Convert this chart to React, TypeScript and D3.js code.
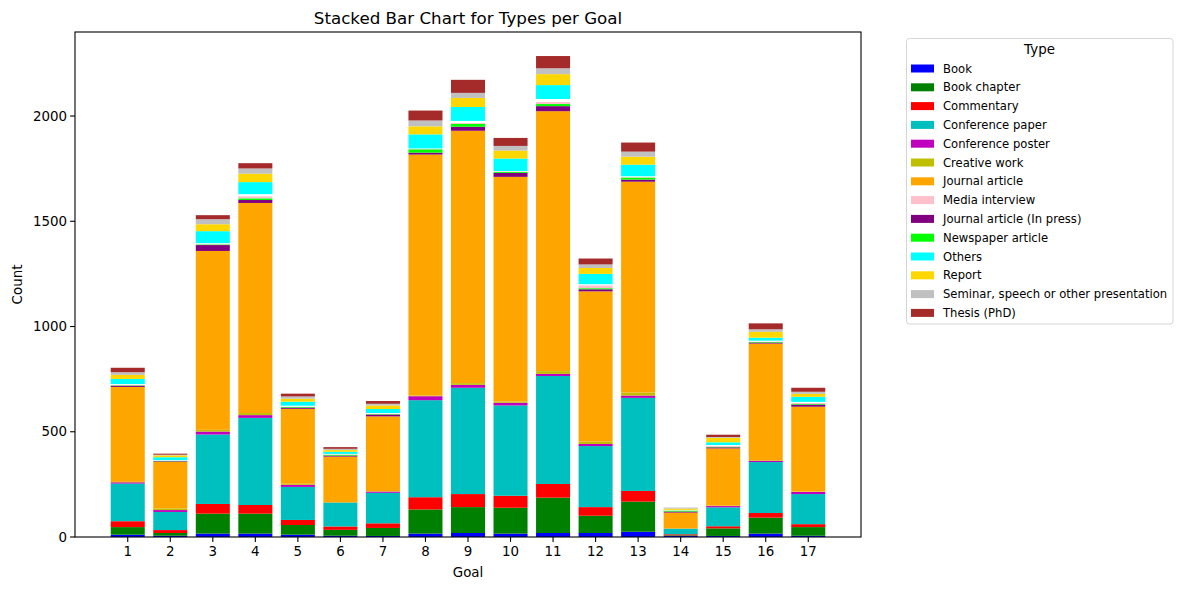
import React from 'react';
import * as d3 from 'd3';

// goals on the x axis
const goals = d3.range(1, 18);

const types = [
  'Book',
  'Book chapter',
  'Commentary',
  'Conference paper',
  'Conference poster',
  'Creative work',
  'Journal article',
  'Media interview',
  'Journal article (In press)',
  'Newspaper article',
  'Others',
  'Report',
  'Seminar, speech or other presentation',
  'Thesis (PhD)',
];

const typeColors: Record<string, string> = {
  Book: '#0000ff',
  'Book chapter': '#008000',
  Commentary: '#ff0000',
  'Conference paper': '#00bfbf',
  'Conference poster': '#bf00bf',
  'Creative work': '#bfbf00',
  'Journal article': '#ffa500',
  'Media interview': '#ffc0cb',
  'Journal article (In press)': '#800080',
  'Newspaper article': '#00ff00',
  Others: '#00ffff',
  Report: '#ffd700',
  'Seminar, speech or other presentation': '#c0c0c0',
  'Thesis (PhD)': '#a52a2a',
  Unlisted: '#ffffff',
};

// stacking order as it appears in the bars (bottom -> top)
const stackOrder = [
  'Book',
  'Book chapter',
  'Commentary',
  'Conference paper',
  'Conference poster',
  'Creative work',
  'Journal article',
  'Journal article (In press)',
  'Newspaper article',
  'Media interview',
  'Unlisted',
  'Others',
  'Report',
  'Seminar, speech or other presentation',
  'Thesis (PhD)',
];

const book = [11, 6, 16, 16, 11, 6, 5, 16, 19, 16, 19, 19, 25, 5, 5, 16, 6];
const bookChapter = [36, 13, 95, 95, 46, 28, 38, 115, 123, 123, 168, 82, 143, 3, 36, 76, 41];
const commentary = [28, 14, 46, 41, 24, 16, 22, 58, 62, 57, 65, 41, 51, 5, 10, 22, 14];
const confPaper = [179, 86, 330, 414, 157, 114, 145, 461, 505, 429, 513, 290, 442, 27, 90, 242, 143];
const confPoster = [6, 9, 14, 13, 10, 0, 6, 19, 14, 13, 10, 10, 11, 0, 6, 6, 10];
const creativeWork = [2, 8, 8, 10, 5, 0, 2, 3, 8, 6, 13, 11, 14, 0, 2, 3, 2];
const journalArticle = [451, 221, 850, 998, 356, 218, 355, 1145, 1199, 1067, 1235, 714, 1002, 76, 272, 554, 403];
const inPress = [6, 3, 28, 14, 6, 5, 9, 9, 19, 19, 24, 10, 10, 5, 5, 5, 10];
const newspaper = [2, 1, 3, 8, 3, 4, 2, 16, 14, 5, 10, 5, 10, 5, 2, 3, 3];
const mediaInterview = [3, 2, 3, 10, 2, 2, 2, 2, 4, 2, 10, 14, 2, 0, 5, 2, 5];
const unlisted = [3, 2, 3, 10, 4, 2, 3, 2, 10, 2, 14, 5, 4, 3, 4, 4, 5];
const others = [24, 14, 57, 57, 19, 10, 19, 67, 66, 59, 66, 49, 55, 0, 13, 14, 24];
const report = [19, 9, 33, 40, 14, 8, 17, 38, 43, 38, 52, 28, 38, 6, 21, 28, 14];
const seminar = [13, 3, 24, 25, 11, 6, 8, 28, 24, 22, 28, 17, 24, 5, 4, 12, 10];
const thesis = [21, 5, 19, 25, 13, 8, 13, 47, 62, 38, 58, 28, 43, 0, 11, 28, 19];

const seriesByType: Record<string, number[]> = {
  Book: book,
  'Book chapter': bookChapter,
  Commentary: commentary,
  'Conference paper': confPaper,
  'Conference poster': confPoster,
  'Creative work': creativeWork,
  'Journal article': journalArticle,
  'Journal article (In press)': inPress,
  'Newspaper article': newspaper,
  'Media interview': mediaInterview,
  Unlisted: unlisted,
  Others: others,
  Report: report,
  'Seminar, speech or other presentation': seminar,
  'Thesis (PhD)': thesis,
};

const yTicks = [0, 500, 1000, 1500, 2000];

const W = 1182;
const H = 590;
const plot = { left: 75, right: 861, top: 32, bottom: 537 };
const font = '"DejaVu Sans", sans-serif';

const App: React.FC = () => {
  const rows = goals.map((g, i) => {
    const r: Record<string, number> = { goal: g };
    stackOrder.forEach((t) => (r[t] = seriesByType[t][i]));
    return r;
  });
  const stacked = d3.stack<Record<string, number>>().keys(stackOrder)(rows);
  const maxTotal = d3.max(rows, (r) => d3.sum(stackOrder, (t) => r[t])) || 1;

  const barW = 0.8;
  const x = d3
    .scaleLinear()
    .domain([1 - barW / 2 - 0.05 * (16 + barW), 17 + barW / 2 + 0.05 * (16 + barW)])
    .range([plot.left, plot.right]);
  const y = d3.scaleLinear().domain([0, maxTotal * 1.05]).range([plot.bottom, plot.top]);

  const legendX = 906.5;
  const legendY = 38.5;
  const rowH = 18.8;

  return (
    <svg
      width={W}
      height={H}
      style={{ position: 'absolute', left: 0, top: 0, background: '#fff' }}
      fontFamily={font}
    >
      <rect x={0} y={0} width={W} height={H} fill="#fff" />
      {stacked.map((layer) => (
        <g key={layer.key} fill={typeColors[layer.key]}>
          {layer.map((d, i) => {
            const h = y(d[0]) - y(d[1]);
            if (h <= 0) return null;
            return (
              <rect
                key={i}
                x={x(goals[i] - barW / 2)}
                width={x(barW) - x(0)}
                y={y(d[1])}
                height={h}
              />
            );
          })}
        </g>
      ))}

      {/* spines */}
      <rect
        x={plot.left}
        y={plot.top}
        width={plot.right - plot.left}
        height={plot.bottom - plot.top}
        fill="none"
        stroke="#000"
        strokeWidth={1.1}
      />

      {/* x ticks */}
      {goals.map((g) => (
        <g key={g} transform={`translate(${x(g)},${plot.bottom})`}>
          <line y2={4.9} stroke="#000" strokeWidth={1.1} />
          <text y={19} textAnchor="middle" fontSize={13.4} fill="#000">
            {g}
          </text>
        </g>
      ))}

      {/* y ticks */}
      {yTicks.map((t) => (
        <g key={t} transform={`translate(${plot.left},${y(t)})`}>
          <line x2={-4.9} stroke="#000" strokeWidth={1.1} />
          <text x={-8} dy="0.35em" textAnchor="end" fontSize={13.4} fill="#000">
            {t}
          </text>
        </g>
      ))}

      <text x={(plot.left + plot.right) / 2} y={24} textAnchor="middle" fontSize={16.7} fill="#000">
        Stacked Bar Chart for Types per Goal
      </text>
      <text x={(plot.left + plot.right) / 2} y={577} textAnchor="middle" fontSize={13.4} fill="#000">
        Goal
      </text>
      <text
        transform={`translate(22,${(plot.top + plot.bottom) / 2}) rotate(-90)`}
        textAnchor="middle"
        fontSize={13.4}
        fill="#000"
      >
        Count
      </text>

      {/* legend */}
      <rect
        x={legendX}
        y={legendY}
        width={266.5}
        height={285.5}
        rx={3}
        fill="#fff"
        stroke="#d5d5d5"
        strokeWidth={1}
      />
      <text x={legendX + 133} y={54} textAnchor="middle" fontSize={13.4} fill="#000">
        Type
      </text>
      {types.map((t, i) => {
        const cy = 68.5 + i * rowH;
        return (
          <g key={t}>
            <rect x={911} y={cy - 4} width={23} height={8} fill={typeColors[t]} />
            <text x={943} y={cy} dy="0.35em" fontSize={11.6} fill="#000">
              {t}
            </text>
          </g>
        );
      })}
    </svg>
  );
};

export default App;
